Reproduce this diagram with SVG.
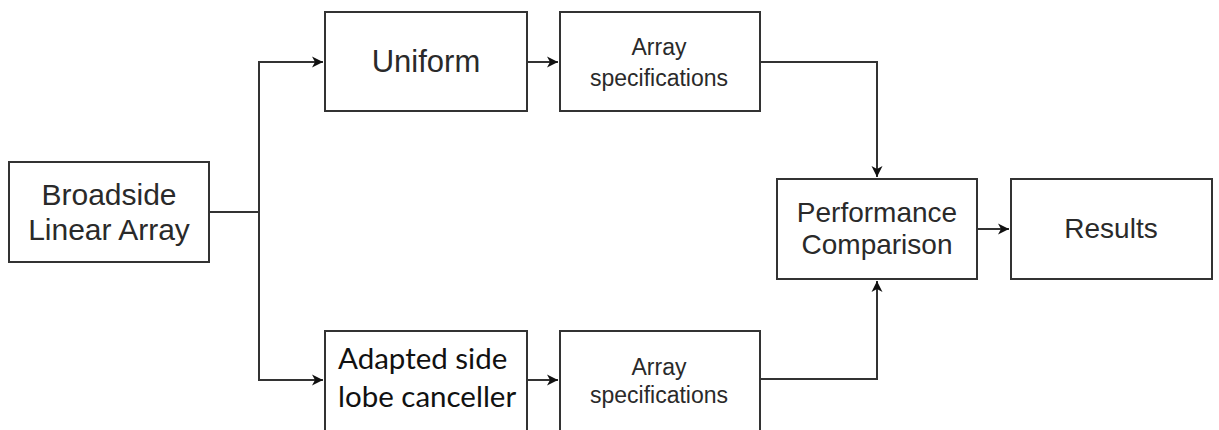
<svg xmlns="http://www.w3.org/2000/svg" width="1219" height="430" viewBox="0 0 1219 430">
<defs>
<marker id="arr" markerWidth="14" markerHeight="14" refX="12" refY="7" orient="auto" markerUnits="userSpaceOnUse">
<path d="M1,1.5 L12,7 L1,12.5 L4,7 Z" fill="#111"/>
</marker>
<style>
.box{fill:#fff;stroke:#333;stroke-width:2}
.t{font-family:"Liberation Sans",Arial,sans-serif;fill:#2a2a2a;text-anchor:middle}
.c{fill:none;stroke:#333;stroke-width:2}
.cal{font-family:Lato,"Open Sans",sans-serif;fill:#111}
</style>
</defs>
<rect width="1219" height="430" fill="#fff"/>
<g id="connectors">
<path class="c" d="M209,212 H259"/>
<path class="c" d="M259,380 V62 H323" marker-end="url(#arr)"/>
<path class="c" d="M259,212 V380 H323" marker-end="url(#arr)"/>
<path class="c" d="M527,62 H558" marker-end="url(#arr)"/>
<path class="c" d="M527,380 H558" marker-end="url(#arr)"/>
<path class="c" d="M760,62 H877 V177" marker-end="url(#arr)"/>
<path class="c" d="M760,379 H877 V281" marker-end="url(#arr)"/>
<path class="c" d="M977,229 H1009" marker-end="url(#arr)"/>
</g>
<g id="broadside">
<rect class="box" x="9" y="162" width="200" height="100"/>
<text class="t" x="109" y="205" font-size="30">Broadside</text>
<text class="t" x="109" y="240" font-size="30">Linear Array</text>
</g>
<g id="uniform">
<rect class="box" x="325" y="12" width="202" height="99"/>
<text class="t" x="426" y="72" font-size="31">Uniform</text>
</g>
<g id="specs-top">
<rect class="box" x="560" y="12" width="200" height="99"/>
<text class="t" x="659" y="55" font-size="23">Array</text>
<text class="t" x="659" y="86" font-size="23">specifications</text>
</g>
<g id="adapted">
<rect class="box" x="325" y="331" width="202" height="102"/>
<text class="cal" x="338" y="369" font-size="29.5">Adapted side</text>
<text class="cal" x="338" y="407" font-size="29.5">lobe canceller</text>
</g>
<g id="specs-bottom">
<rect class="box" x="560" y="331" width="200" height="102"/>
<text class="t" x="659" y="375" font-size="23">Array</text>
<text class="t" x="659" y="403" font-size="23">specifications</text>
</g>
<g id="performance">
<rect class="box" x="777" y="179" width="200" height="100"/>
<text class="t" x="877" y="222" font-size="28">Performance</text>
<text class="t" x="877" y="254" font-size="28">Comparison</text>
</g>
<g id="results">
<rect class="box" x="1011" y="179" width="201" height="100"/>
<text class="t" x="1111" y="238" font-size="28">Results</text>
</g>
</svg>
